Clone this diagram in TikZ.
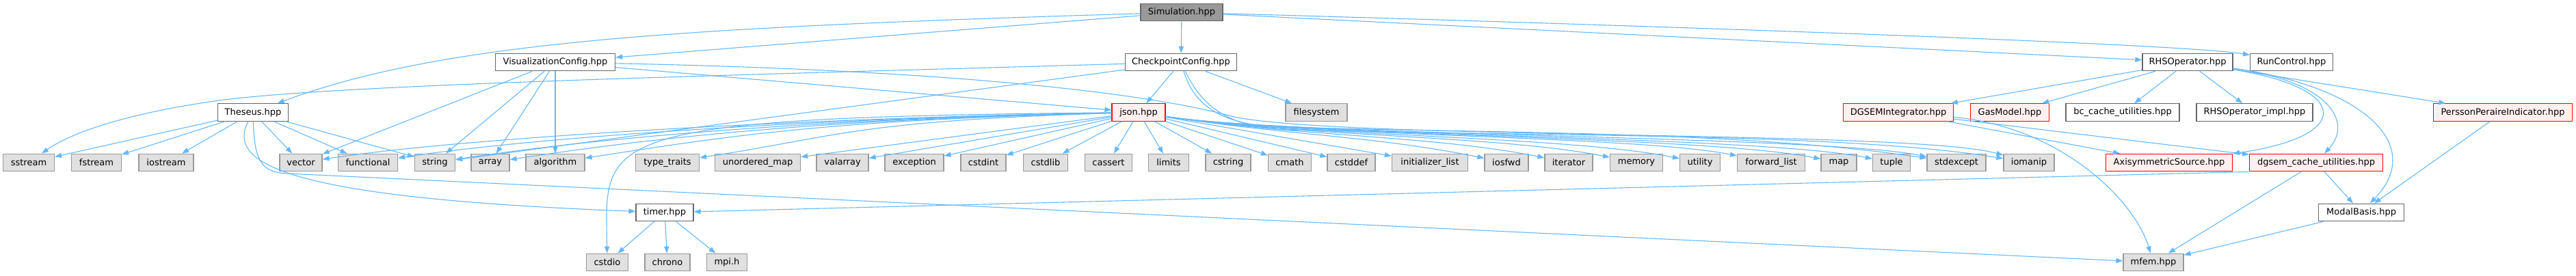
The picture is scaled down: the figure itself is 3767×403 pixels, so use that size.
\documentclass[tikz,border=0pt]{standalone}
\usepackage{fontspec}
\setmainfont{DejaVu Sans}
\usetikzlibrary{arrows.meta}
\definecolor{edgeblue}{HTML}{63B8FF}
\definecolor{docframe}{HTML}{666666}
\definecolor{sysframe}{HTML}{999999}
\definecolor{sysfill}{HTML}{E0E0E0}
\definecolor{truncfill}{HTML}{FFF0F0}
\definecolor{rootfill}{HTML}{999999}
\tikzset{every node/.style={font=\fontsize{6.5}{7.5}\selectfont, minimum height=12.75pt, inner sep=1pt, line width=0.6pt},
  wd/.style={minimum width=#1*0.5pt},
  doc/.style={draw=docframe, fill=white},
  sys/.style={draw=sysframe, fill=sysfill},
  trunc/.style={draw=red, fill=truncfill},
  root/.style={draw=docframe, fill=rootfill},
  inc/.style={draw=edgeblue, line width=0.55pt, -{Triangle[length=5pt,width=3.6pt]}}}

\begin{document}
\begin{tikzpicture}[x=0.5pt,y=-0.5pt]
   \useasboundingbox (0,0) rectangle (3767,403);
   \node[root,wd=120] (sim) at (1728,18) {Simulation.hpp};
   \node[doc,wd=175] (vis) at (812,91) {VisualizationConfig.hpp};
   \node[doc,wd=163] (ckpt) at (1727,91) {CheckpointConfig.hpp};
   \node[doc,wd=132] (rhs) at (3199,91) {RHSOperator.hpp};
   \node[doc,wd=121] (runctl) at (3351,91) {RunControl.hpp};
   \node[doc,wd=103] (theseus) at (370,164.5) {Theseus.hpp};
   \node[trunc,wd=78] (json) at (1665,164.5) {json.hpp};
   \node[sys,wd=90] (filesys) at (1925,164.5) {filesystem};
   \node[trunc,wd=161] (dgsemint) at (2776,164.5) {DGSEMIntegrator.hpp};
   \node[trunc,wd=115] (gas) at (2939,164.5) {GasModel.hpp};
   \node[doc,wd=166] (bccache) at (3104,164.5) {bc\_cache\_utilities.hpp};
   \node[doc,wd=170] (rhsimpl) at (3297,164.5) {RHSOperator\_impl.hpp};
   \node[trunc,wd=203] (persson) at (3660,164.5) {PerssonPeraireIndicator.hpp};
   \node[sys,wd=75] (sstream) at (42,238) {sstream};
   \node[sys,wd=73] (fstream) at (141,238) {fstream};
   \node[sys,wd=80] (iostream) at (243,238) {iostream};
   \node[sys,wd=62] (vector) at (440,238) {vector};
   \node[sys,wd=87] (functional) at (538,238) {functional};
   \node[sys,wd=59] (string) at (636,238) {string};
   \node[sys,wd=56] (array) at (717,238) {array};
   \node[sys,wd=86] (algorithm) at (812,238) {algorithm};
   \node[sys,wd=93] (typetraits) at (976,238) {type\_traits};
   \node[sys,wd=125] (unordmap) at (1108,238) {unordered\_map};
   \node[sys,wd=76] (valarray) at (1232,238) {valarray};
   \node[sys,wd=86] (exception) at (1337,238) {exception};
   \node[sys,wd=66] (cstdint) at (1438,238) {cstdint};
   \node[sys,wd=65] (cstdlib) at (1529,238) {cstdlib};
   \node[sys,wd=69] (cassert) at (1621,238) {cassert};
   \node[sys,wd=59] (limits) at (1709,238) {limits};
   \node[sys,wd=66] (cstring) at (1796,238) {cstring};
   \node[sys,wd=63] (cmath) at (1886,238) {cmath};
   \node[sys,wd=70] (cstddef) at (1976,238) {cstddef};
   \node[sys,wd=111] (initlist) at (2091,238) {initializer\_list};
   \node[sys,wd=64] (iosfwd) at (2203,238) {iosfwd};
   \node[sys,wd=70] (iterator) at (2294,238) {iterator};
   \node[sys,wd=77] (memory) at (2393,238) {memory};
   \node[sys,wd=59] (utility) at (2486,238) {utility};
   \node[sys,wd=99] (fwdlist) at (2590,238) {forward\_list};
   \node[sys,wd=52] (map) at (2689,238) {map};
   \node[sys,wd=55] (tuple) at (2766,238) {tuple};
   \node[sys,wd=86] (stdexcept) at (2861,238) {stdexcept};
   \node[sys,wd=74] (iomanip) at (2967,238) {iomanip};
   \node[trunc,wd=185] (axisym) at (3172,238) {AxisymmetricSource.hpp};
   \node[trunc,wd=195] (dgsemcache) at (3387,238) {dgsem\_cache\_utilities.hpp};
   \node[doc,wd=84] (timer) at (972,311) {timer.hpp};
   \node[doc,wd=125] (modal) at (3453,311) {ModalBasis.hpp};
   \node[sys,wd=61] (cstdio) at (888,384) {cstdio};
   \node[sys,wd=66] (chrono) at (976,384) {chrono};
   \node[sys,wd=59] (mpi) at (1063,384) {mpi.h};
   \node[sys,wd=88] (mfem) at (3149,384) {mfem.hpp};

   \draw[inc] (sim) .. controls (1000,40) and (650,60) .. (theseus);
   \draw[inc] (sim) -- (vis);
   \draw[inc] (sim) -- (ckpt);
   \draw[inc] (sim) -- (rhs);
   \draw[inc] (sim) .. controls (2500,40) and (3200,65) .. (runctl);

   \draw[inc] (vis) -- (vector);
   \draw[inc] (vis) -- (string);
   \draw[inc] (vis) -- (array);
   \draw[inc] (vis) -- (algorithm);
   \draw[inc] (vis) -- (json);
   \draw[inc] (vis) .. controls (1500,105) and (1730,150) .. (1800,170)
                    .. controls (1950,205) and (2800,190) .. (iomanip);

   \draw[inc] (ckpt) -- (json);
   \draw[inc] (ckpt) -- (filesys);
   \draw[inc] (ckpt) -- (string);
   \draw[inc] (ckpt) .. controls (1000,112) and (450,125) .. (300,150)
                     .. controls (200,165) and (110,190) .. (sstream);
   \draw[inc] (ckpt) .. controls (1745,150) and (1780,182) .. (1870,186)
                     .. controls (2200,195) and (2550,192) .. (stdexcept);
   \draw[inc] (ckpt) .. controls (1755,150) and (1790,186) .. (1880,190)
                     .. controls (2300,200) and (2700,195) .. (iomanip);

   \draw[inc] (theseus) -- (sstream);
   \draw[inc] (theseus) -- (fstream);
   \draw[inc] (theseus) -- (iostream);
   \draw[inc] (theseus) -- (vector);
   \draw[inc] (theseus) -- (functional);
   \draw[inc] (theseus) -- (string);
   \draw[inc] (theseus) .. controls (330,240) and (420,290) .. (timer);
   \draw[inc] (theseus) .. controls (372,240) and (385,252) .. (420,254) -- (mfem);

   \draw[inc] (json) .. controls (860,172) and (885,200) .. (cstdio);
   \draw[inc] (json) .. controls (1200,172) and (690,200) .. (vector);
   \draw[inc] (json) .. controls (1200,173) and (788,200) .. (functional);
   \draw[inc] (json) .. controls (1200,174) and (886,200) .. (string);
   \draw[inc] (json) .. controls (1200,175) and (967,200) .. (array);
   \draw[inc] (json) .. controls (1200,176) and (1062,200) .. (algorithm);
   \draw[inc] (json) .. controls (1250,177) and (1226,200) .. (typetraits);
   \draw[inc] (json) -- (unordmap);
   \draw[inc] (json) -- (valarray);
   \draw[inc] (json) -- (exception);
   \draw[inc] (json) -- (cstdint);
   \draw[inc] (json) -- (cstdlib);
   \draw[inc] (json) -- (cassert);
   \draw[inc] (json) -- (limits);
   \draw[inc] (json) -- (cstring);
   \draw[inc] (json) -- (cmath);
   \draw[inc] (json) -- (cstddef);
   \draw[inc] (json) -- (initlist);
   \draw[inc] (json) .. controls (1900,200) and (2003,198) .. (iosfwd);
   \draw[inc] (json) .. controls (1900,200) and (2094,198) .. (iterator);
   \draw[inc] (json) .. controls (1900,200) and (2193,198) .. (memory);
   \draw[inc] (json) .. controls (1900,200) and (2286,198) .. (utility);
   \draw[inc] (json) .. controls (1900,200) and (2390,198) .. (fwdlist);
   \draw[inc] (json) .. controls (1900,200) and (2489,198) .. (map);
   \draw[inc] (json) .. controls (1900,200) and (2566,198) .. (tuple);
   \draw[inc] (json) .. controls (1900,200) and (2661,198) .. (stdexcept);

   \draw[inc] (timer) -- (cstdio);
   \draw[inc] (timer) -- (chrono);
   \draw[inc] (timer) -- (mpi);

   \draw[inc] (rhs) -- (dgsemint);
   \draw[inc] (rhs) -- (gas);
   \draw[inc] (rhs) -- (bccache);
   \draw[inc] (rhs) -- (rhsimpl);
   \draw[inc] (rhs) -- (persson);
   \draw[inc] (rhs) .. controls (3440,130) and (3440,200) .. (axisym);
   \draw[inc] (rhs) .. controls (3410,120) and (3440,180) .. (dgsemcache);
   \draw[inc] (rhs) .. controls (3450,125) and (3550,210) .. (modal);

   \draw[inc] (dgsemint) -- (axisym);
   \draw[inc] (dgsemint) -- (dgsemcache);
   \draw[inc] (dgsemint) .. controls (3010,185) and (3120,290) .. (mfem);

   \draw[inc] (dgsemcache) -- (modal);
   \draw[inc] (dgsemcache) -- (mfem);
   \draw[inc] (dgsemcache.south west) -- (timer);
   \draw[inc] (persson) -- (modal);
   \draw[inc] (modal) -- (mfem);
\end{tikzpicture}
\end{document}
